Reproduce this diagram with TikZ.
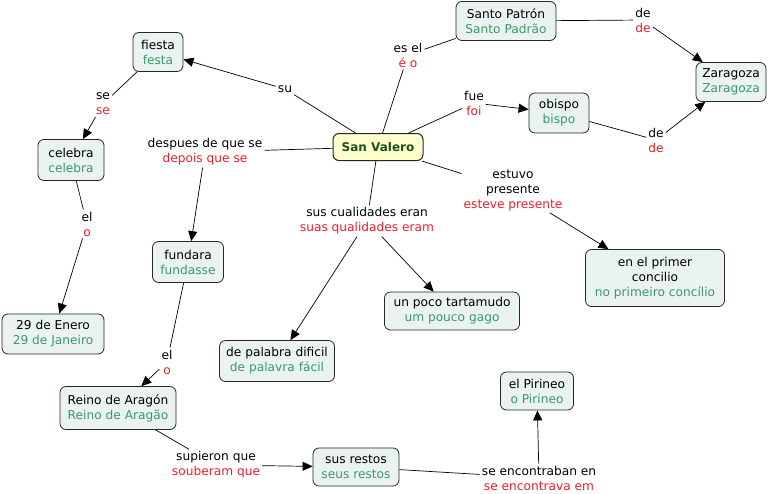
\documentclass[tikz,border=0pt]{standalone}
\usepackage{fontspec}
\setmainfont{DejaVu Sans}
\usetikzlibrary{arrows.meta}
\definecolor{cfill}{HTML}{EAF2F2}
\definecolor{ptg}{HTML}{3A9A68}
\definecolor{lr}{HTML}{E8202A}
\definecolor{yfill}{HTML}{FFFFCC}
\definecolor{dg}{HTML}{1F4F1F}
\newcommand{\pt}[1]{\textcolor{ptg}{#1}}
\newcommand{\rd}[1]{\textcolor{lr}{#1}}
\begin{document}
\begin{tikzpicture}[x=1pt,y=-1pt,
  font=\fontsize{12.2}{15}\selectfont,
  concept/.style={draw=black!85, fill=cfill, rounded corners=6pt, line width=0.8pt, align=center, inner xsep=3pt, inner ysep=3pt, minimum height=39pt},
  main/.style={draw=black!85, fill=yfill, rounded corners=6pt, line width=1pt, align=center, minimum width=90pt, minimum height=27pt, text=dg, font=\fontsize{12}{15}\selectfont\bfseries},
  lnk/.style={align=center, inner sep=2pt},
  con/.style={line width=0.7pt},
  arr/.style={line width=0.7pt, -{Triangle[length=10pt,width=9pt]}}]
\useasboundingbox[fill=white] (0,0) rectangle (770,493);

% concepts
\node[main] (sv) at (378,147) {San Valero};
\node[concept, minimum width=50pt] (fiesta) at (158,52) {fiesta\\\pt{festa}};
\node[concept, minimum width=100pt] (santo) at (506,21) {Santo Patrón\\\pt{Santo Padrão}};
\node[concept, minimum width=70pt] (zar) at (731,82) {Zaragoza\\\pt{Zaragoza}};
\node[concept, minimum width=60pt, minimum height=40pt] (obispo) at (559,113) {obispo\\\pt{bispo}};
\node[concept, minimum width=66pt, minimum height=41pt] (celebra) at (71,160) {celebra\\\pt{celebra}};
\node[concept, minimum width=71pt, minimum height=41pt] (fundara) at (188,262) {fundara\\\pt{fundasse}};
\node[concept, minimum width=102pt, minimum height=40pt] (enero) at (53,334) {29 de Enero\\\pt{29 de Janeiro}};
\node[concept, minimum width=139pt, minimum height=57pt] (concilio) at (655,278) {en el primer\\concilio\\\pt{no primeiro concílio}};
\node[concept, minimum width=135pt, minimum height=38pt] (tarta) at (452,311) {un poco tartamudo\\\pt{um pouco gago}};
\node[concept, minimum width=115pt, minimum height=41pt] (palabra) at (277,361) {de palabra dificil\\\pt{de palavra fácil}};
\node[concept, minimum width=116pt, minimum height=43pt] (reino) at (118,408) {Reino de Aragón\\\pt{Reino de Aragão}};
\node[concept, minimum width=86pt, minimum height=38pt] (restos) at (356,467) {sus restos\\\pt{seus restos}};
\node[concept, minimum width=73pt, minimum height=38pt] (pirineo) at (537,391) {el Pirineo\\\pt{o Pirineo}};

% linking phrases
\node[lnk] (lsu) at (285,89) {su};
\node[lnk] (lse) at (103,104) {se\\\rd{se}};
\node[lnk] (lel1) at (87,224) {el\\\rd{o}};
\node[lnk] (ldesp) at (205,152) {despues de que se\\\rd{depois que se}};
\node[lnk] (lesel) at (408,55) {es el\\\rd{é o}};
\node[lnk] (lfue) at (474,103) {fue\\\rd{foi}};
\node[lnk] (lde1) at (643,20) {de\\\rd{de}};
\node[lnk] (lde2) at (656,140) {de\\\rd{de}};
\node[lnk] (lest) at (513,190) {estuvo\\presente\\\rd{esteve presente}};
\node[lnk] (lcual) at (367,221) {sus cualidades eran\\\rd{suas qualidades eram}};
\node[lnk] (lel2) at (167,362) {el\\\rd{o}};
\node[lnk] (lsup) at (216,465) {supieron que\\\rd{souberam que}};
\node[lnk] (lenc) at (539,478) {se encontraban en\\\rd{se encontrava em}};

% connectors
\draw[con] (sv) -- (lsu);  \draw[arr] (lsu) -- (fiesta);
\draw[con] (fiesta) -- (lse); \draw[arr] (lse) -- (celebra);
\draw[con] (celebra) -- (lel1); \draw[arr] (lel1) -- (enero);
\draw[con] (sv) -- (ldesp); \draw[arr] (ldesp) -- (fundara);
\draw[con] (fundara) -- (lel2); \draw[arr] (lel2) -- (reino);
\draw[con] (reino) -- (lsup); \draw[arr] (lsup) -- (restos);
\draw[con] (restos) -- (lenc); \draw[arr] (lenc) -- (pirineo);
\draw[con] (sv) -- (lesel); \draw[con] (lesel) -- (santo);
\draw[con] (santo) -- (lde1); \draw[arr] (lde1) -- (zar);
\draw[con] (sv) -- (lfue); \draw[arr] (lfue) -- (obispo);
\draw[con] (obispo) -- (lde2); \draw[arr] (lde2) -- (zar);
\draw[con] (sv) -- (lest); \draw[arr] (lest) -- (concilio);
\draw[con] (sv) -- (lcual); \draw[arr] (lcual) -- (tarta); \draw[arr] (lcual) -- (palabra);
\end{tikzpicture}
\end{document}
